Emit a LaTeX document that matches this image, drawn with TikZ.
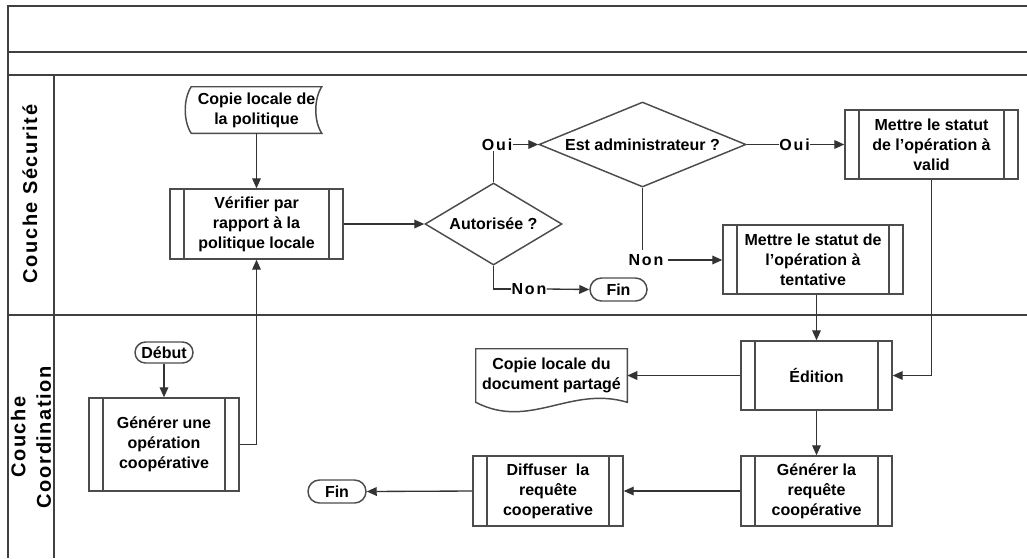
\documentclass[tikz,border=0pt]{standalone}
\usepackage{fontspec}
\setmainfont{Liberation Sans}
\newfontfamily\spacedfont[LetterSpace=12]{Liberation Sans}
\newfontfamily\lanefont[LetterSpace=8]{Liberation Sans}
\usetikzlibrary{arrows.meta,shapes.geometric,shapes.misc,calc}
\begin{document}
\begin{tikzpicture}[x=0.75pt,y=-0.75pt,
  lane/.style={draw=black!75, line width=1.5pt},
  shapeline/.style={draw=black!70, line width=1.1pt},
  line/.style={draw=black!80, line width=1pt},
  arr/.style={line, -{Triangle[length=7.5pt,width=6.5pt]}},
  txt/.style={font=\bfseries\fontsize{12}{15}\selectfont, align=center, text=black, inner sep=0pt},
  procbox/.style={txt, shapeline, rectangle,
    path picture={
      \draw[black!70, line width=1.1pt] ([xshift=10.5pt]path picture bounding box.north west) -- ([xshift=10.5pt]path picture bounding box.south west);
      \draw[black!70, line width=1.1pt] ([xshift=-10.5pt]path picture bounding box.north east) -- ([xshift=-10.5pt]path picture bounding box.south east);}},
  decision/.style={txt, shapeline, diamond, aspect=2.5},
  term/.style={txt, shapeline, rounded rectangle},
  lbl/.style={font=\spacedfont\bfseries\fontsize{12}{15}\selectfont, inner sep=0pt, text=black},
  lanelbl/.style={font=\lanefont\bfseries\fontsize{15}{19}\selectfont, align=center, rotate=90, inner sep=0pt, text=black}
]
\useasboundingbox (0,0) rectangle (1027,558);
\fill[white] (0,0) rectangle (1027,558);

% swimlane frame
\draw[lane] (1027,6) -- (8,6) -- (8,558);
\draw[lane] (8,52) -- (1027,52);
\draw[lane] (8,75) -- (1027,75);
\draw[lane] (8,315) -- (1027,315);
\draw[lane] (54,75) -- (54,558);

\node[lanelbl] (lane1) at (30,194) {Couche Sécurité};
\node[lanelbl] (lane2) at (31,437) {Couche\\Coordination};

% nodes
\node[txt, minimum width=97.5pt, minimum height=34.5pt] (cp) at (256.5,110) {Copie locale de\\la politique};
\draw[shapeline] (cp.north west) -- (cp.north east) .. controls +(-8,12) and +(-8,-12) .. (cp.south east) -- (cp.south west) .. controls +(-8,-12) and +(-8,12) .. (cp.north west) -- cycle;

\node[procbox, minimum width=129.75pt, minimum height=52.5pt] (verif) at (256.5,224) {Vérifier par\\rapport à la\\politique locale};
\node[decision, minimum width=102.75pt, minimum height=61.5pt] (auto) at (493.5,224) {Autorisée ?};
\node[decision, minimum width=155.25pt, minimum height=63.75pt] (admin) at (642.5,144.5) {Est administrateur ?};
\node[procbox, minimum width=129.75pt, minimum height=51.75pt] (valid) at (931.5,144.5) {Mettre le statut\\de l’opération à\\valid};
\node[procbox, minimum width=135pt, minimum height=51.75pt] (tent) at (813,259.5) {Mettre le statut de\\l’opération à\\tentative};
\node[term, minimum width=42.75pt, minimum height=17.25pt] (fin1) at (618.5,289.5) {Fin};

\node[term, minimum width=43.5pt, minimum height=15.75pt] (debut) at (164,352.5) {Début};
\node[procbox, minimum width=112.5pt, minimum height=69.75pt] (genop) at (164,444.5) {Générer une\\opération\\coopérative};
\node[txt, minimum width=113.25pt, minimum height=39.75pt] (doc) at (551.5,375.5) {Copie locale du\\document partagé};
\draw[shapeline] (doc.north west) -- (doc.north east) -- (doc.south east) .. controls +(-57,-17) and +(54,28) .. (doc.south west) -- cycle;
\node[procbox, minimum width=113.25pt, minimum height=51.75pt] (edition) at (816.5,375.5) {Édition};
\node[procbox, minimum width=113.25pt, minimum height=52.5pt] (genreq) at (816.5,491) {Générer la\\requête\\coopérative};
\node[procbox, minimum width=112.5pt, minimum height=52.5pt] (diff) at (548,491) {Diffuser~ la\\requête\\cooperative};
\node[term, minimum width=43.5pt, minimum height=17.25pt] (fin2) at (337,491.5) {Fin};

% labels
\node[lbl] (oui1) at (497,144.5) {Oui};
\node[lbl] (oui2) at (794.5,144.5) {Oui};
\node[lbl] (non1) at (646,260) {Non};
\node[lbl] (non2) at (529,289) {Non};

% connectors
\draw[arr] (cp.south) -- (verif.north);
\draw[arr] (verif.east) -- (auto.west);
\draw[line] (auto.north) -- (auto.north |- oui1.south);
\draw[arr] (oui1.east) -- (admin.west);
\draw[line] (admin.east) -- (oui2.west);
\draw[arr] (oui2.east) -- (valid.west);
\draw[line] (admin.south) -- ([yshift=3pt]admin.south |- non1.north);
\draw[arr] ([xshift=3pt]non1.east) -- (non1.east -| tent.west);
\draw[line] (auto.south) |- (non2.west);
\draw[arr] (non2.east) -- (fin1.west);
\draw[arr] (valid.south) |- (edition.east);
\draw[arr] (tent.south -| edition.north) -- (edition.north);
\draw[arr] (edition.west) -- (doc.east);
\draw[arr] (edition.south) -- (genreq.north);
\draw[arr] (genreq.west) -- (diff.east);
\draw[arr] (diff.west) -- (fin2.east);
\draw[arr] (debut.south) -- (genop.north);
\draw[arr] (genop.east) -| (verif.south);
\end{tikzpicture}
\end{document}
